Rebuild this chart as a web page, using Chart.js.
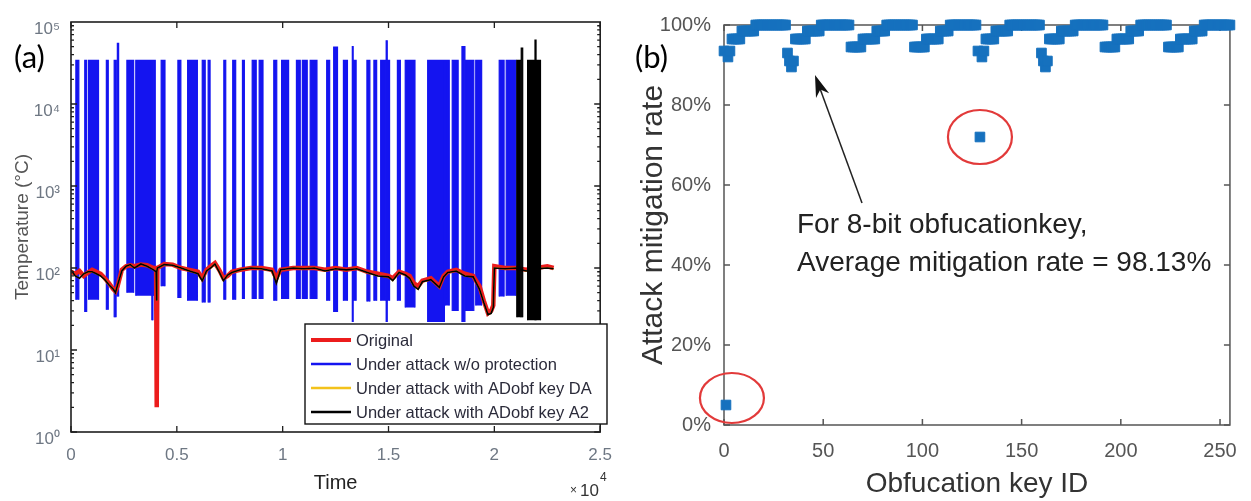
<!DOCTYPE html>
<html><head><meta charset="utf-8">
<script src="https://cdn.jsdelivr.net/npm/chart.js@4.4.1/dist/chart.umd.min.js"></script>
<style>
html,body{margin:0;padding:0;background:#fff;width:1251px;height:501px;overflow:hidden}
canvas{position:absolute;top:0}
#ca{left:0}
#cb{left:625px}
</style></head><body>
<canvas id="ca" width="625" height="501"></canvas>
<canvas id="cb" width="626" height="501"></canvas>
<script>
// ================= Panel (a) data =================
const timeTicks = [0, 0.5, 1, 1.5, 2, 2.5];          // x 10^4
const tempTicks = [1, 10, 100, 1000, 10000, 100000];
const legendLabels = ['Original', 'Under attack w/o protection', 'Under attack with ADobf key DA', 'Under attack with ADobf key A2'];

const origT = [0, 0.02, 0.04, 0.06, 0.08, 0.10, 0.12, 0.14, 0.16, 0.18, 0.20, 0.21, 0.22, 0.24, 0.26, 0.28, 0.30, 0.33, 0.36, 0.39, 0.402, 0.404, 0.406, 0.408, 0.44, 0.48, 0.52, 0.56, 0.60, 0.62, 0.64, 0.66, 0.68, 0.70, 0.72, 0.74, 0.76, 0.80, 0.85, 0.90, 0.95, 0.97, 0.99, 1.05, 1.10, 1.15, 1.20, 1.25, 1.30, 1.35, 1.40, 1.45, 1.50, 1.52, 1.55, 1.58, 1.60, 1.62, 1.64, 1.66, 1.70, 1.74, 1.76, 1.78, 1.82, 1.86, 1.90, 1.93, 1.95, 1.97, 1.985, 1.995, 2.00, 2.05, 2.10, 2.15, 2.20, 2.25, 2.28];
const origY = [90, 85, 92, 80, 88, 95, 90, 85, 75, 65, 55, 52, 60, 95, 105, 108, 105, 110, 108, 100, 100, 2, 2, 100, 112, 110, 100, 95, 90, 75, 95, 105, 115, 95, 75, 80, 90, 95, 100, 100, 95, 75, 95, 100, 100, 100, 95, 100, 95, 100, 90, 85, 80, 75, 90, 85, 80, 65, 60, 70, 75, 60, 80, 90, 95, 85, 80, 60, 40, 28, 30, 35, 105, 100, 100, 95, 100, 105, 100];
const a2Y   = [95, 80, 75, 85, 90, 90, 85, 80, 72, 62, 55, 50, 62, 92, 105, 110, 100, 112, 105, 95, 90, 40, 90, 100, 110, 108, 100, 92, 85, 70, 92, 100, 112, 90, 70, 82, 88, 95, 100, 98, 92, 65, 95, 100, 98, 100, 92, 98, 95, 98, 88, 80, 78, 70, 88, 82, 75, 60, 55, 68, 72, 58, 78, 88, 92, 80, 78, 55, 38, 27, 28, 33, 100, 98, 100, 92, 98, 100, 98];

const blueStart = [0.023, 0.065, 0.083, 0.167, 0.204, 0.219, 0.264, 0.306, 0.382, 0.389, 0.426, 0.505, 0.551, 0.620, 0.648, 0.722, 0.764, 0.810, 0.856, 0.889, 0.958, 0.995, 1.065, 1.093, 1.130, 1.208, 1.241, 1.287, 1.329, 1.335, 1.398, 1.431, 1.463, 1.489, 1.495, 1.542, 1.579, 1.685, 1.769, 1.801, 1.847, 1.866, 1.912, 2.023, 2.056];
const blueEnd   = [0.037, 0.074, 0.130, 0.176, 0.213, 0.225, 0.296, 0.380, 0.387, 0.398, 0.444, 0.519, 0.597, 0.634, 0.657, 0.731, 0.778, 0.819, 0.875, 0.907, 0.972, 1.028, 1.083, 1.116, 1.162, 1.222, 1.259, 1.306, 1.333, 1.347, 1.412, 1.444, 1.488, 1.494, 1.505, 1.556, 1.625, 1.764, 1.787, 1.829, 1.861, 1.903, 1.940, 2.046, 2.102];
const blueTop   = [34000, 34000, 34000, 34000, 34000, 55000, 34000, 34000, 34000, 34000, 34000, 34000, 34000, 34000, 34000, 34000, 34000, 34000, 34000, 34000, 34000, 34000, 34000, 34000, 34000, 34000, 49500, 34000, 50000, 34000, 34000, 34000, 34000, 59000, 34000, 34000, 34000, 34000, 34000, 34000, 50000, 34000, 34000, 34000, 34000];
const blueLow   = [41, 29, 41, 31, 25, 45, 50, 46, 23, 46, 60, 43, 40, 38, 38, 41, 41, 42, 42, 42, 40, 42, 42, 42, 42, 40, 29, 40, 22, 40, 39, 40, 40, 22, 40, 40, 33, 22, 35, 30, 22, 30, 35, 45, 46];

const blackStart = [2.106, 2.127, 2.157, 2.192, 2.199];
const blackEnd   = [2.125, 2.134, 2.190, 2.197, 2.218];
const blackTop   = [34000, 48000, 34000, 60000, 34000];
const blackLow   = [25, 25, 23, 23, 23];

// ================= Panel (b) data =================
const keyTicks  = [0, 50, 100, 150, 200, 250];
const rateTicks = [0, 20, 40, 60, 80, 100];
const block0 = [93.5, 5, 92, 93.5, 96.5, 96.5, 96.5, 96.5, 96.5, 98.5, 98.5, 98.5, 98.5, 98.5, 98.5, 98.5, 100, 100, 100, 100, 100, 100, 100, 100, 100, 100, 100, 100, 100, 100, 100, 100];
const block1 = [93, 91, 89.5, 91, 96.5, 96.5, 96.5, 96.5, 96.5, 96.5, 98.5, 98.5, 98.5, 98.5, 98.5, 98.5, 98.5, 100, 100, 100, 100, 100, 100, 100, 100, 100, 100, 100, 100, 100, 100, 100];
const block2 = [94.5, 94.5, 94.5, 94.5, 94.5, 94.5, 96.5, 96.5, 96.5, 96.5, 96.5, 96.5, 96.5, 98.5, 98.5, 98.5, 98.5, 98.5, 100, 100, 100, 100, 100, 100, 100, 100, 100, 100, 100, 100, 100, 100];
const block3 = [94.5, 94.5, 94.5, 94.5, 94.5, 94.5, 96.5, 96.5, 96.5, 96.5, 96.5, 96.5, 96.5, 98.5, 98.5, 98.5, 98.5, 98.5, 100, 100, 100, 100, 100, 100, 100, 100, 100, 100, 100, 100, 100, 100];
const block4 = [93.5, 72, 92, 93.5, 96.5, 96.5, 96.5, 96.5, 96.5, 98.5, 98.5, 98.5, 98.5, 98.5, 98.5, 98.5, 100, 100, 100, 100, 100, 100, 100, 100, 100, 100, 100, 100, 100, 100, 100, 100];
const block5 = [93, 91, 89.5, 91, 96.5, 96.5, 96.5, 96.5, 96.5, 96.5, 98.5, 98.5, 98.5, 98.5, 98.5, 98.5, 98.5, 100, 100, 100, 100, 100, 100, 100, 100, 100, 100, 100, 100, 100, 100, 100];
const block6 = [94.5, 94.5, 94.5, 94.5, 94.5, 94.5, 96.5, 96.5, 96.5, 96.5, 96.5, 96.5, 96.5, 98.5, 98.5, 98.5, 98.5, 98.5, 100, 100, 100, 100, 100, 100, 100, 100, 100, 100, 100, 100, 100, 100];
const block7 = [94.5, 94.5, 94.5, 94.5, 94.5, 94.5, 96.5, 96.5, 96.5, 96.5, 96.5, 96.5, 96.5, 98.5, 98.5, 98.5, 98.5, 98.5, 100, 100, 100, 100, 100, 100, 100, 100, 100, 100, 100, 100, 100, 100];
const noteLines = ['For 8-bit obfucationkey,', 'Average mitigation rate = 98.13%'];
const ringKeys = [4, 129];
const ringRates = [6.75, 72];

// ================= helpers =================
const SUP = ['\u2070', '\u00B9', '\u00B2', '\u00B3', '\u2074', '\u2075'];
const FONT = "'Liberation Sans', Arial, sans-serif";
function bandPts(starts, ends, lows, tops) {
  const pts = [];
  for (let i = 0; i < starts.length; i++) {
    pts.push({x: starts[i], y: lows[i]}, {x: starts[i], y: tops[i]},
             {x: ends[i], y: tops[i]}, {x: ends[i], y: lows[i]}, {x: ends[i], y: null});
  }
  return pts;
}
const xy = (xs, ys) => xs.map((v, i) => ({x: v, y: ys[i]}));

const COL = {red: '#ec1c1c', blue: '#1414f0', yellow: '#f3c21b', black: '#000000'};

const frameA = {
  id: 'frameA',
  afterDatasetsDraw(chart) {
    const {ctx, chartArea: a} = chart;
    const sx = chart.scales.x, sy = chart.scales.y;
    ctx.save();
    ctx.strokeStyle = '#1e1e1e';
    ctx.lineWidth = 1.3;
    ctx.beginPath();
    timeTicks.forEach(v => {
      const p = sx.getPixelForValue(v);
      ctx.moveTo(p, a.bottom); ctx.lineTo(p, a.bottom - 6);
      ctx.moveTo(p, a.top); ctx.lineTo(p, a.top + 6);
    });
    for (let d = 0; d < tempTicks.length - 1; d++) {
      for (let m = 1; m <= 9; m++) {
        const p = sy.getPixelForValue(tempTicks[d] * m);
        const len = m === 1 ? 6 : 3;
        ctx.moveTo(a.left, p); ctx.lineTo(a.left + len, p);
        ctx.moveTo(a.right, p); ctx.lineTo(a.right - len, p);
      }
    }
    ctx.stroke();
    ctx.lineWidth = 1.6;
    ctx.strokeRect(a.left, a.top, a.right - a.left, a.bottom - a.top);
    ctx.restore();
  },
  afterDraw(chart) {
    const ctx = chart.ctx;
    ctx.save();
    // legend box
    const bx = 305, by = 324, bw = 302, bh = 100;
    ctx.fillStyle = '#fff';
    ctx.fillRect(bx, by, bw, bh);
    ctx.strokeStyle = '#111'; ctx.lineWidth = 1.4;
    ctx.strokeRect(bx, by, bw, bh);
    const items = legendLabels.map(l => chart.data.datasets.find(d => d.label === l));
    items.forEach((d, i) => {
      const yy = by + 16 + i * 24;
      ctx.strokeStyle = d.borderColor;
      ctx.lineWidth = i === 0 ? 4 : 2.5;
      ctx.beginPath(); ctx.moveTo(bx + 6, yy); ctx.lineTo(bx + 46, yy); ctx.stroke();
      ctx.fillStyle = '#2b2b3a';
      ctx.font = '16.5px ' + FONT;
      ctx.textBaseline = 'middle';
      ctx.fillText(d.label, bx + 51, yy + 1);
    });
    // exponent of the x axis
    ctx.fillStyle = '#333';
    ctx.textBaseline = 'alphabetic';
    ctx.font = '12px ' + FONT;
    ctx.fillText('\u00D7', 570, 494);
    ctx.font = '17px ' + FONT;
    ctx.fillText('10', 580, 496);
    ctx.font = '12px ' + FONT;
    ctx.fillText('4', 600, 481);
    // panel letter
    ctx.fillStyle = '#000';
    ctx.font = "31px Lato, 'Open Sans', sans-serif";
    ctx.fillText('(a)', 14, 68);
    ctx.restore();
  }
};

new Chart(document.getElementById('ca'), {
  type: 'line',
  data: {
    datasets: [
      {label: 'Original', data: xy(origT, origY), borderColor: COL.red, borderWidth: 4.5, order: 4},
      {label: 'Under attack w/o protection', data: bandPts(blueStart, blueEnd, blueLow, blueTop),
       borderColor: COL.blue, backgroundColor: COL.blue, borderWidth: 1.2, fill: 'shape', order: 5},
      {label: 'Under attack with ADobf key DA', data: xy(origT, a2Y), borderColor: COL.yellow, borderWidth: 1.4, order: 3},
      {label: 'Under attack with ADobf key A2', data: xy(origT, a2Y), borderColor: COL.black, borderWidth: 1.6, order: 1},
      {label: 'A2 spikes', data: bandPts(blackStart, blackEnd, blackLow, blackTop),
       borderColor: COL.black, backgroundColor: COL.black, borderWidth: 1.2, fill: 'shape', order: 2}
    ]
  },
  options: {
    responsive: false, animation: false, devicePixelRatio: 1,
    layout: {padding: {top: 22, right: 14, left: 0, bottom: 0}},
    plugins: {legend: {display: false}, tooltip: {enabled: false}},
    elements: {point: {radius: 0}, line: {tension: 0}},
    scales: {
      x: {
        type: 'linear', min: 0, max: 2.5,
        afterBuildTicks: s => { s.ticks = timeTicks.map(v => ({value: v})); },
        afterFit: s => { s.height = 69; },
        grid: {display: false, drawTicks: false}, border: {display: false},
        ticks: {padding: 13, color: '#6e7783', font: {family: FONT, size: 17}, maxRotation: 0, autoSkip: false,
                callback: v => String(v)},
        title: {display: true, text: 'Time', color: '#222', font: {family: FONT, size: 20}, padding: {top: 0, bottom: 6}}
      },
      y: {
        type: 'logarithmic', min: 1, max: 100000,
        afterBuildTicks: s => { s.ticks = tempTicks.map(v => ({value: v})); },
        afterFit: s => { s.width = 71; },
        grid: {display: false, drawTicks: false}, border: {display: false},
        ticks: {padding: 11, labelOffset: 7, color: '#6e7783', font: {family: FONT, size: 17}, autoSkip: false,
                callback: v => '10' + SUP[Math.round(Math.log10(v))]},
        title: {display: true, text: 'Temperature (\u00B0C)', color: '#555', font: {family: FONT, size: 19}, padding: {top: 11, bottom: 0}}
      }
    }
  },
  plugins: [frameA]
});

// ================= Panel (b) =================
const mitigation = [...block0, ...block1, ...block2, ...block3, ...block4, ...block5, ...block6, ...block7];

const frameB = {
  id: 'frameB',
  beforeDatasetsDraw(chart) {
    const {ctx, chartArea: a} = chart;
    const sx = chart.scales.x, sy = chart.scales.y;
    ctx.save();
    ctx.strokeStyle = '#555';
    ctx.lineWidth = 1.5;
    ctx.strokeRect(a.left, a.top, a.right - a.left, a.bottom - a.top);
    ctx.beginPath();
    keyTicks.forEach(v => {
      const p = sx.getPixelForValue(v);
      ctx.moveTo(p, a.bottom); ctx.lineTo(p, a.bottom - 6);
      ctx.moveTo(p, a.top); ctx.lineTo(p, a.top + 6);
    });
    rateTicks.forEach(v => {
      const p = sy.getPixelForValue(v);
      ctx.moveTo(a.left, p); ctx.lineTo(a.left + 6, p);
      ctx.moveTo(a.right, p); ctx.lineTo(a.right - 6, p);
    });
    ctx.stroke();
    ctx.restore();
  },
  afterDraw(chart) {
    const ctx = chart.ctx;
    const sx = chart.scales.x, sy = chart.scales.y;
    ctx.save();
    // red rings
    ctx.strokeStyle = '#e23a3a';
    ctx.lineWidth = 2.2;
    const radii = [[32, 25], [32, 27]];
    ringKeys.forEach((k, i) => {
      ctx.beginPath();
      ctx.ellipse(sx.getPixelForValue(k), sy.getPixelForValue(ringRates[i]), radii[i][0], radii[i][1], 0, 0, Math.PI * 2);
      ctx.stroke();
    });
    // arrow
    const tx = 237, ty = 203, hx = 190, hy = 75;
    const ang = Math.atan2(hy - ty, hx - tx);
    ctx.strokeStyle = '#222'; ctx.fillStyle = '#111'; ctx.lineWidth = 1.5;
    ctx.beginPath(); ctx.moveTo(tx, ty); ctx.lineTo(hx - 12 * Math.cos(ang), hy - 12 * Math.sin(ang)); ctx.stroke();
    const L = 22, W = 7;
    ctx.beginPath();
    ctx.moveTo(hx, hy);
    ctx.lineTo(hx - L * Math.cos(ang) + W * Math.sin(ang), hy - L * Math.sin(ang) - W * Math.cos(ang));
    ctx.lineTo(hx - 0.7 * L * Math.cos(ang), hy - 0.7 * L * Math.sin(ang));
    ctx.lineTo(hx - L * Math.cos(ang) - W * Math.sin(ang), hy - L * Math.sin(ang) + W * Math.cos(ang));
    ctx.closePath(); ctx.fill();
    // note text
    ctx.fillStyle = '#222';
    ctx.font = '28px ' + FONT;
    ctx.textBaseline = 'alphabetic';
    ctx.fillText(noteLines[0], 172, 233);
    ctx.fillText(noteLines[1], 172, 271);
    // panel letter
    ctx.fillStyle = '#000';
    ctx.font = "31px Lato, 'Open Sans', sans-serif";
    ctx.fillText('(b)', 10, 68);
    ctx.restore();
  }
};

new Chart(document.getElementById('cb'), {
  type: 'scatter',
  data: {
    datasets: [{
      label: 'Attack mitigation rate',
      data: mitigation.map((v, i) => ({x: i, y: v})),
      pointStyle: 'rect', pointRadius: 6.8, pointBorderWidth: 1,
      backgroundColor: '#1671be', borderColor: '#1671be', clip: false
    }]
  },
  options: {
    responsive: false, animation: false, devicePixelRatio: 1,
    layout: {padding: {top: 25, right: 15, left: 0, bottom: 0}},
    plugins: {legend: {display: false}, tooltip: {enabled: false}},
    scales: {
      x: {
        type: 'linear', min: 0, max: 255,
        afterBuildTicks: s => { s.ticks = keyTicks.map(v => ({value: v})); },
        afterFit: s => { s.height = 76; },
        grid: {display: false, drawTicks: false}, border: {display: false},
        ticks: {padding: 14, color: '#555', font: {family: FONT, size: 20}, maxRotation: 0, autoSkip: false},
        title: {display: true, text: 'Obfucation key ID', color: '#333', font: {family: FONT, size: 28}, padding: {top: 0, bottom: 0}}
      },
      y: {
        type: 'linear', min: 0, max: 100,
        afterBuildTicks: s => { s.ticks = rateTicks.map(v => ({value: v})); },
        afterFit: s => { s.width = 99; },
        grid: {display: false, drawTicks: false}, border: {display: false},
        ticks: {padding: 13, color: '#555', font: {family: FONT, size: 20}, autoSkip: false, callback: v => v + '%'},
        title: {display: true, text: 'Attack mitigation rate', color: '#333', font: {family: FONT, size: 30}, padding: {top: 11, bottom: 0}}
      }
    }
  },
  plugins: [frameB]
});
</script>
</body></html>
